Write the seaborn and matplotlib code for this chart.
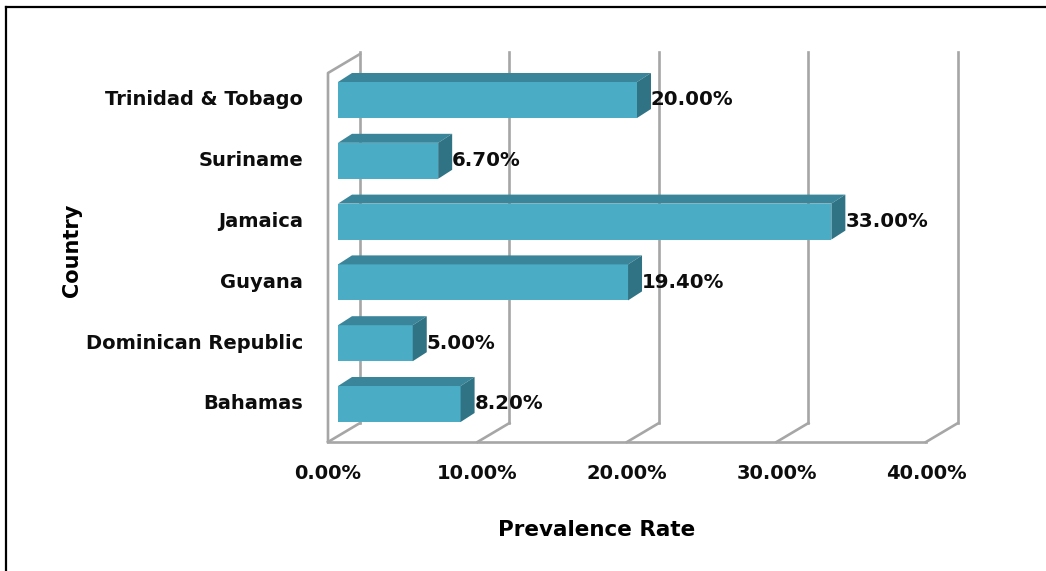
import matplotlib
matplotlib.use("Agg")
import matplotlib.pyplot as plt
from matplotlib.lines import Line2D
from matplotlib.patches import Polygon
import seaborn as sns
import pandas as pd

# Data
countries = ["Trinidad & Tobago", "Suriname", "Jamaica", "Guyana",
             "Dominican Republic", "Bahamas"]
prevalence = [20.00, 6.70, 33.00, 19.40, 5.00, 8.20]
x_ticks = [0, 10, 20, 30, 40]
x_tick_labels = ["0.00%", "10.00%", "20.00%", "30.00%", "40.00%"]

df = pd.DataFrame({"Country": countries, "Prevalence Rate": prevalence})

W, H = 1046, 571
fig = plt.figure(figsize=(W / 100, H / 100), dpi=100)
fig.patch.set_facecolor("white")
ax = fig.add_axes([0, 0, 1, 1])

FONT = "DejaVu Sans"
FACE = "#4bacc6"
TOP = "#3a8599"
SIDE = "#2f7385"
GRID = "#a6a6a6"
TXT = "#0d0d0d"

# pixel scale of the data axes
PX = 14.95   # pixels per percentage point
PY = 60.8    # pixels per category step
BAR_H = 0.592

sns.barplot(data=df, x="Prevalence Rate", y="Country", orient="h",
            color=FACE, width=BAR_H, linewidth=0, saturation=1, ax=ax,
            zorder=3)

ax.set_xlim(-338 / PX, (W - 338) / PX)
ax.set_ylim((H - 100) / PY, -100 / PY)
ax.set_axis_off()

# 3-D frame: floor and back wall
front_dx = -10 / PX
depth = (32 / PX, -19 / PY)
floor_y = (442 - 100) / PY
wall_top = (52 - 100) / PY
left_top = (73 - 100) / PY
glw = 1.9

for v in x_ticks:
    fx = v + front_dx
    bx, by = fx + depth[0], floor_y + depth[1]
    ax.add_line(Line2D([fx, bx], [floor_y, by], color=GRID, lw=glw, zorder=1))
    ax.add_line(Line2D([bx, bx], [by, wall_top], color=GRID, lw=glw, zorder=1))
ax.add_line(Line2D([x_ticks[0] + front_dx, x_ticks[-1] + front_dx],
                   [floor_y, floor_y], color=GRID, lw=glw, zorder=1))
# left side wall
lx = x_ticks[0] + front_dx
ax.add_line(Line2D([lx, lx, lx + depth[0]],
                   [floor_y, left_top, left_top + depth[1]],
                   color=GRID, lw=glw, zorder=1))

# extruded top and side faces of each bar
ddx, ddy = 14 / PX, -9 / PY
for p in ax.patches[:len(countries)]:
    x0, y0 = p.get_x(), p.get_y()
    w, h = p.get_width(), p.get_height()
    yt, yb = min(y0, y0 + h), max(y0, y0 + h)
    top = Polygon([(x0, yt), (x0 + w, yt), (x0 + w + ddx, yt + ddy),
                   (x0 + ddx, yt + ddy)], closed=True, facecolor=TOP,
                  edgecolor="none", zorder=3)
    side = Polygon([(x0 + w, yt), (x0 + w, yb), (x0 + w + ddx, yb + ddy),
                    (x0 + w + ddx, yt + ddy)], closed=True, facecolor=SIDE,
                   edgecolor="none", zorder=3)
    ax.add_patch(top)
    ax.add_patch(side)

# value labels
ax.bar_label(ax.containers[0], labels=[f"{v:.2f}%" for v in prevalence],
             padding=10, fontsize=14.2, fontweight="bold", family=FONT,
             color=TXT, zorder=5)

# category labels
for i, c in enumerate(countries):
    ax.text(-35 / PX, i, c, ha="right", va="center", fontsize=14,
            fontweight="bold", family=FONT, color=TXT)

# x tick labels
for v, lab in zip(x_ticks, x_tick_labels):
    ax.text(v + front_dx, (474 - 100) / PY, lab, ha="center", va="center",
            fontsize=14, fontweight="bold", family=FONT, color=TXT)

# axis titles
fig.text(597 / W, 1 - 530 / H, "Prevalence Rate", ha="center", va="center",
         fontsize=15.5, fontweight="heavy", family=FONT, color="black")
fig.text(72 / W, 1 - 250 / H, "Country", ha="center", va="center",
         rotation=90, fontsize=15, fontweight="heavy", family=FONT,
         color="black")

# chart border
fig.add_artist(Line2D([6 / W, 1], [1 - 7 / H, 1 - 7 / H],
                      transform=fig.transFigure, color="black", lw=1.6))
fig.add_artist(Line2D([6 / W, 6 / W], [1 - 7 / H, 0],
                      transform=fig.transFigure, color="black", lw=1.6))

fig.savefig("out.png", dpi=100)
